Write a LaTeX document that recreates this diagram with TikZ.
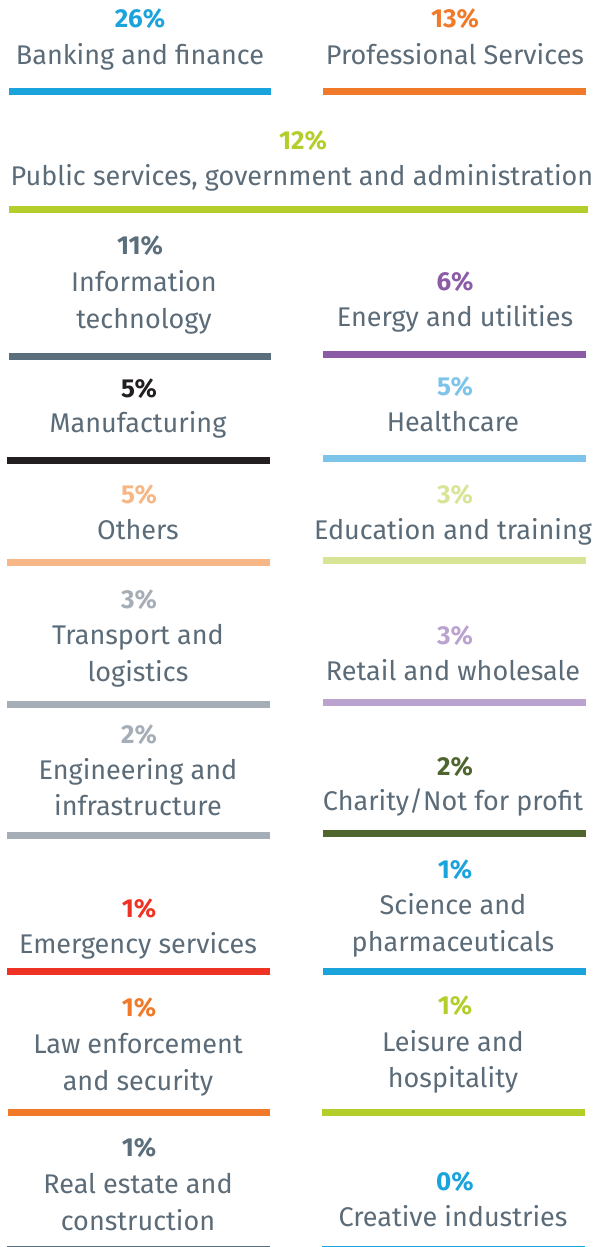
\documentclass[tikz,border=0pt]{standalone}
\usepackage{fontspec}
\setmainfont{Fira Sans}
\definecolor{txtslate}{HTML}{5B6B78}
\definecolor{cblue}{HTML}{1BA3DC}
\definecolor{corange}{HTML}{F07A2A}
\definecolor{clime}{HTML}{B5CD2B}
\definecolor{cslate}{HTML}{5B6E7C}
\definecolor{cpurple}{HTML}{8B5BA5}
\definecolor{cblack}{HTML}{231F20}
\definecolor{clightblue}{HTML}{7DC4EA}
\definecolor{cpeach}{HTML}{F7B686}
\definecolor{cpalelime}{HTML}{D8E496}
\definecolor{cgray}{HTML}{A5AEB6}
\definecolor{clilac}{HTML}{BBA3CF}
\definecolor{colive}{HTML}{4F652D}
\definecolor{cred}{HTML}{EE3324}
\tikzset{
  pct/.style={font=\fontsize{26}{30}\selectfont\bfseries, anchor=base, inner sep=0pt},
  lbl/.style={font=\fontsize{27}{30}\selectfont, text=txtslate, anchor=base, inner sep=0pt},
  sectorbar/.style={line width=7pt}
}
\begin{document}
\begin{tikzpicture}[x=1pt,y=-1pt]
    \useasboundingbox (0,0) rectangle (609,1247);

    % Row 1
    \node[pct, cblue] (bank-p) at (140,28) {26\%};
    \node[lbl] (bank-a) at (140,64) {Banking and finance};
    \draw[sectorbar, cblue] (9,91) -- (271,91);
    \node[pct, corange] (prof-p) at (455,28) {13\%};
    \node[lbl] (prof-a) at (455,64) {Professional Services};
    \draw[sectorbar, corange] (323,91) -- (586,91);

    % Row 2 (full width)
    \node[pct, clime] (pub-p) at (303,149) {12\%};
    \node[lbl] (pub-a) at (302,185) {Public services, government and administration};
    \draw[sectorbar, clime] (9,209) -- (588,209);

    % Row 3
    \node[pct, cslate] (it-p) at (140,254) {11\%};
    \node[lbl] (it-a) at (144,291) {Information};
    \node[lbl] (it-b) at (144,328) {technology};
    \draw[sectorbar, cslate] (9,356) -- (271,356);
    \node[pct, cpurple] (energy-p) at (455,290) {6\%};
    \node[lbl] (energy-a) at (455,326) {Energy and utilities};
    \draw[sectorbar, cpurple] (323,354) -- (586,354);

    % Row 4
    \node[pct, cblack] (manu-p) at (139,397) {5\%};
    \node[lbl] (manu-a) at (138,432) {Manufacturing};
    \draw[sectorbar, cblack] (7,460) -- (270,460);
    \node[pct, clightblue] (health-p) at (455,395) {5\%};
    \node[lbl] (health-a) at (453,431) {Healthcare};
    \draw[sectorbar, clightblue] (323,458) -- (586,458);

    % Row 5
    \node[pct, cpeach] (others-p) at (139,503) {5\%};
    \node[lbl] (others-a) at (138,539) {Others};
    \draw[sectorbar, cpeach] (7,562) -- (270,562);
    \node[pct, cpalelime] (edu-p) at (455,503) {3\%};
    \node[lbl] (edu-a) at (453,539) {Education and training};
    \draw[sectorbar, cpalelime] (323,560) -- (586,560);

    % Row 6
    \node[pct, cgray] (trans-p) at (139,608) {3\%};
    \node[lbl] (trans-a) at (138,644) {Transport and};
    \node[lbl] (trans-b) at (138,681) {logistics};
    \draw[sectorbar, cgray] (7,704) -- (270,704);
    \node[pct, clilac] (retail-p) at (455,644) {3\%};
    \node[lbl] (retail-a) at (453,680) {Retail and wholesale};
    \draw[sectorbar, clilac] (323,702) -- (586,702);

    % Row 7
    \node[pct, cgray] (eng-p) at (139,743) {2\%};
    \node[lbl] (eng-a) at (138,779) {Engineering and};
    \node[lbl] (eng-b) at (138,815) {infrastructure};
    \draw[sectorbar, cgray] (7,835) -- (270,835);
    \node[pct, colive] (charity-p) at (455,775) {2\%};
    \node[lbl] (charity-a) at (453,810) {Charity/Not for profit};
    \draw[sectorbar, colive] (323,833) -- (586,833);

    % Row 8
    \node[pct, cred] (emerg-p) at (139,917) {1\%};
    \node[lbl] (emerg-a) at (138,953) {Emergency services};
    \draw[sectorbar, cred] (7,971) -- (270,971);
    \node[pct, cblue] (sci-p) at (455,878) {1\%};
    \node[lbl] (sci-a) at (453,914) {Science and};
    \node[lbl] (sci-b) at (453,951) {pharmaceuticals};
    \draw[sectorbar, cblue] (323,971) -- (586,971);

    % Row 9
    \node[pct, corange] (law-p) at (139,1016) {1\%};
    \node[lbl] (law-a) at (138,1053) {Law enforcement};
    \node[lbl] (law-b) at (138,1090) {and security};
    \draw[sectorbar, corange] (8,1112) -- (270,1112);
    \node[pct, clime] (leis-p) at (455,1014) {1\%};
    \node[lbl] (leis-a) at (453,1051) {Leisure and};
    \node[lbl] (leis-b) at (453,1087) {hospitality};
    \draw[sectorbar, clime] (322,1112) -- (585,1112);

    % Row 10 (bars cut by the page edge)
    \node[pct, cslate] (estate-p) at (139,1156) {1\%};
    \node[lbl] (estate-a) at (138,1193) {Real estate and};
    \node[lbl] (estate-b) at (138,1230) {construction};
    \draw[sectorbar, cslate] (7,1249.5) -- (270,1249.5);
    \node[pct, cblue] (creat-p) at (455,1190) {0\%};
    \node[lbl] (creat-a) at (453,1226) {Creative industries};
    \draw[sectorbar, cblue] (322,1249.5) -- (585,1249.5);
\end{tikzpicture}
\end{document}
